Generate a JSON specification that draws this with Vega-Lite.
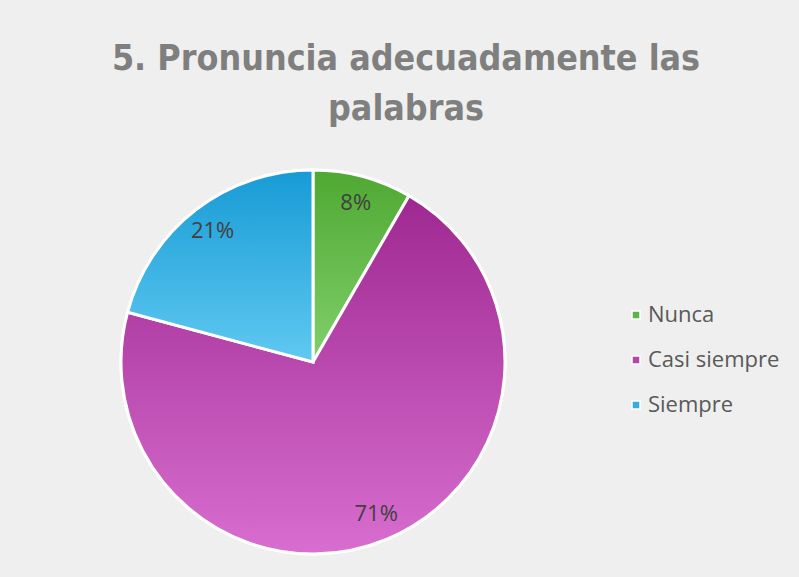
{
  "$schema": "https://vega.github.io/schema/vega-lite/v6.json",
  "width": 626,
  "height": 384,
  "autosize": {"type": "none"},
  "padding": {"left": 0, "top": 170, "right": 173, "bottom": 23},
  "background": "#efefef",
  "view": {"stroke": null},
  "title": {
    "text": ["5. Pronuncia adecuadamente las", "palabras"],
    "font": "DejaVu Sans Condensed",
    "fontSize": 35.5,
    "fontWeight": "bold",
    "color": "#7f7f7f",
    "anchor": "middle",
    "frame": "group",
    "dx": 93,
    "lineHeight": 50,
    "offset": 9,
    "baseline": "alphabetic"
  },
  "data": {
    "values": [
      {"cat": "Nunca", "n": 2, "pct": "8%", "o": 1},
      {"cat": "Casi siempre", "n": 17, "pct": "71%", "o": 2},
      {"cat": "Siempre", "n": 5, "pct": "21%", "o": 3}
    ]
  },
  "encoding": {
    "theta": {"field": "n", "type": "quantitative", "stack": true},
    "order": {"field": "o", "type": "ordinal"}
  },
  "layer": [
    {
      "mark": {"type": "arc", "outerRadius": 192, "stroke": "#ffffff", "strokeWidth": 3},
      "encoding": {
        "color": {
          "field": "cat",
          "type": "nominal",
          "sort": ["Nunca", "Casi siempre", "Siempre"],
          "scale": {"domain": ["Nunca", "Casi siempre", "Siempre"], "range": ["#5fb447", "#b547a8", "#35ade3"]},
          "legend": {
            "orient": "none",
            "legendX": 625,
            "legendY": 134,
            "title": null,
            "symbolType": "square",
            "symbolSize": 64,
            "symbolStrokeColor": "#ffffff",
            "symbolStrokeWidth": 1.5,
            "labelFont": "Open Sans",
            "labelFontSize": 22,
            "labelColor": "#595959",
            "labelOffset": 1,
            "labelLimit": 300,
            "rowPadding": 23,
            "padding": 0
          }
        }
      }
    },
    {
      "mark": {"type": "arc", "outerRadius": 192, "stroke": "#ffffff", "strokeWidth": 3},
      "encoding": {
        "fill": {
          "condition": [
            {"test": "datum.cat === 'Nunca'", "value": {"gradient": "linear", "x1": 0, "y1": 0, "x2": 0, "y2": 1, "stops": [{"offset": 0, "color": "#4fa832"}, {"offset": 1, "color": "#80d06b"}]}},
            {"test": "datum.cat === 'Casi siempre'", "value": {"gradient": "linear", "x1": 0, "y1": 0, "x2": 0, "y2": 1, "stops": [{"offset": 0, "color": "#9e2891"}, {"offset": 1, "color": "#d86ecf"}]}}
          ],
          "value": {"gradient": "linear", "x1": 0, "y1": 0, "x2": 0, "y2": 1, "stops": [{"offset": 0, "color": "#179bd5"}, {"offset": 1, "color": "#60c9f1"}]}
        }
      }
    },
    {
      "mark": {"type": "text", "radius": 165, "font": "Open Sans", "fontSize": 22, "color": "#404040"},
      "encoding": {"text": {"field": "pct", "type": "nominal"}}
    }
  ]
}
